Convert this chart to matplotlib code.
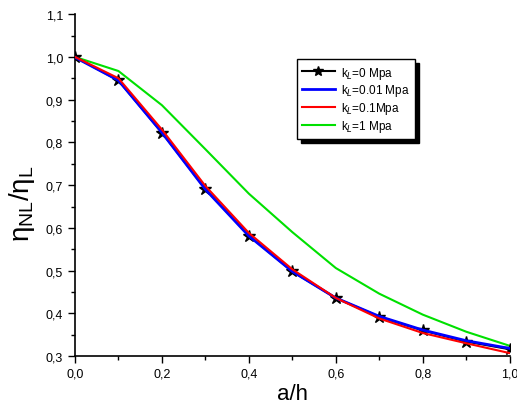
import matplotlib
matplotlib.use("Agg")
import matplotlib.pyplot as plt
from matplotlib.ticker import MultipleLocator, FuncFormatter
from matplotlib.lines import Line2D

plt.rcParams['font.family'] = ['Liberation Sans', 'DejaVu Sans']

a_h = [0.0, 0.1, 0.2, 0.3, 0.4, 0.5, 0.6, 0.7, 0.8, 0.9, 1.0]
k0 = [1.0, 0.945, 0.823, 0.691, 0.582, 0.498, 0.436, 0.392, 0.360, 0.334, 0.316]
k001 = [0.999, 0.945, 0.823, 0.690, 0.581, 0.498, 0.436, 0.393, 0.361, 0.336, 0.318]
k01 = [1.0, 0.950, 0.830, 0.698, 0.588, 0.503, 0.436, 0.388, 0.354, 0.330, 0.307]
k1 = [1.0, 0.967, 0.887, 0.784, 0.680, 0.590, 0.506, 0.446, 0.397, 0.357, 0.324]
labels = ['k$_L$=0 Mpa', 'k$_L$=0.01 Mpa', 'k$_L$=0.1Mpa', 'k$_L$=1 Mpa']

fig = plt.figure(figsize=(5.17, 4.10), dpi=100)
ax = fig.add_axes([0.145, 0.129, 0.841, 0.834])

ax.plot(a_h, k0, color='black', lw=1.5, marker='*', ms=9, zorder=3)
ax.plot(a_h, k001, color='blue', lw=2.0, zorder=4)
ax.plot(a_h, k01, color='red', lw=1.5, zorder=5)
ax.plot(a_h, k1, color='#00e000', lw=1.5, zorder=2)

ax.set_xlim(0, 1.0)
ax.set_ylim(0.3, 1.1)
ax.spines['top'].set_visible(False)
ax.spines['right'].set_visible(False)
ax.xaxis.set_major_locator(MultipleLocator(0.2))
ax.xaxis.set_minor_locator(MultipleLocator(0.1))
ax.yaxis.set_major_locator(MultipleLocator(0.1))
ax.yaxis.set_minor_locator(MultipleLocator(0.05))
fmt = FuncFormatter(lambda v, p: f"{v:.1f}".replace('.', ','))
ax.xaxis.set_major_formatter(fmt)
ax.yaxis.set_major_formatter(fmt)
ax.tick_params(which='major', direction='out', length=5, width=1, labelsize=9)
ax.tick_params(which='minor', direction='out', length=3, width=1)
for s in ax.spines.values():
    s.set_linewidth(1.2)

ax.set_xlabel('a/h', fontsize=16, labelpad=2)
ax.set_ylabel(r'$\mathregular{\eta_{NL}/\eta_L}$', fontsize=20)
ax.yaxis.set_label_coords(-0.087, 0.45)

handles = [
    Line2D([], [], color='black', lw=1.5, marker='*', ms=7),
    Line2D([], [], color='blue', lw=2.0),
    Line2D([], [], color='red', lw=1.5),
    Line2D([], [], color='#00e000', lw=1.5),
]
leg = ax.legend(handles, labels, loc='upper right', bbox_to_anchor=(0.782, 0.868),
                borderaxespad=0, fontsize=8.5,
                frameon=True, fancybox=False,
                shadow={'color': 'black', 'alpha': 1.0, 'ox': 3, 'oy': -3},
                handlelength=2.8, borderpad=0.45, labelspacing=0.15, handletextpad=0.5)
leg.get_frame().set_edgecolor('black')
leg.get_frame().set_linewidth(1.0)

fig.savefig('out.png', dpi=100)
